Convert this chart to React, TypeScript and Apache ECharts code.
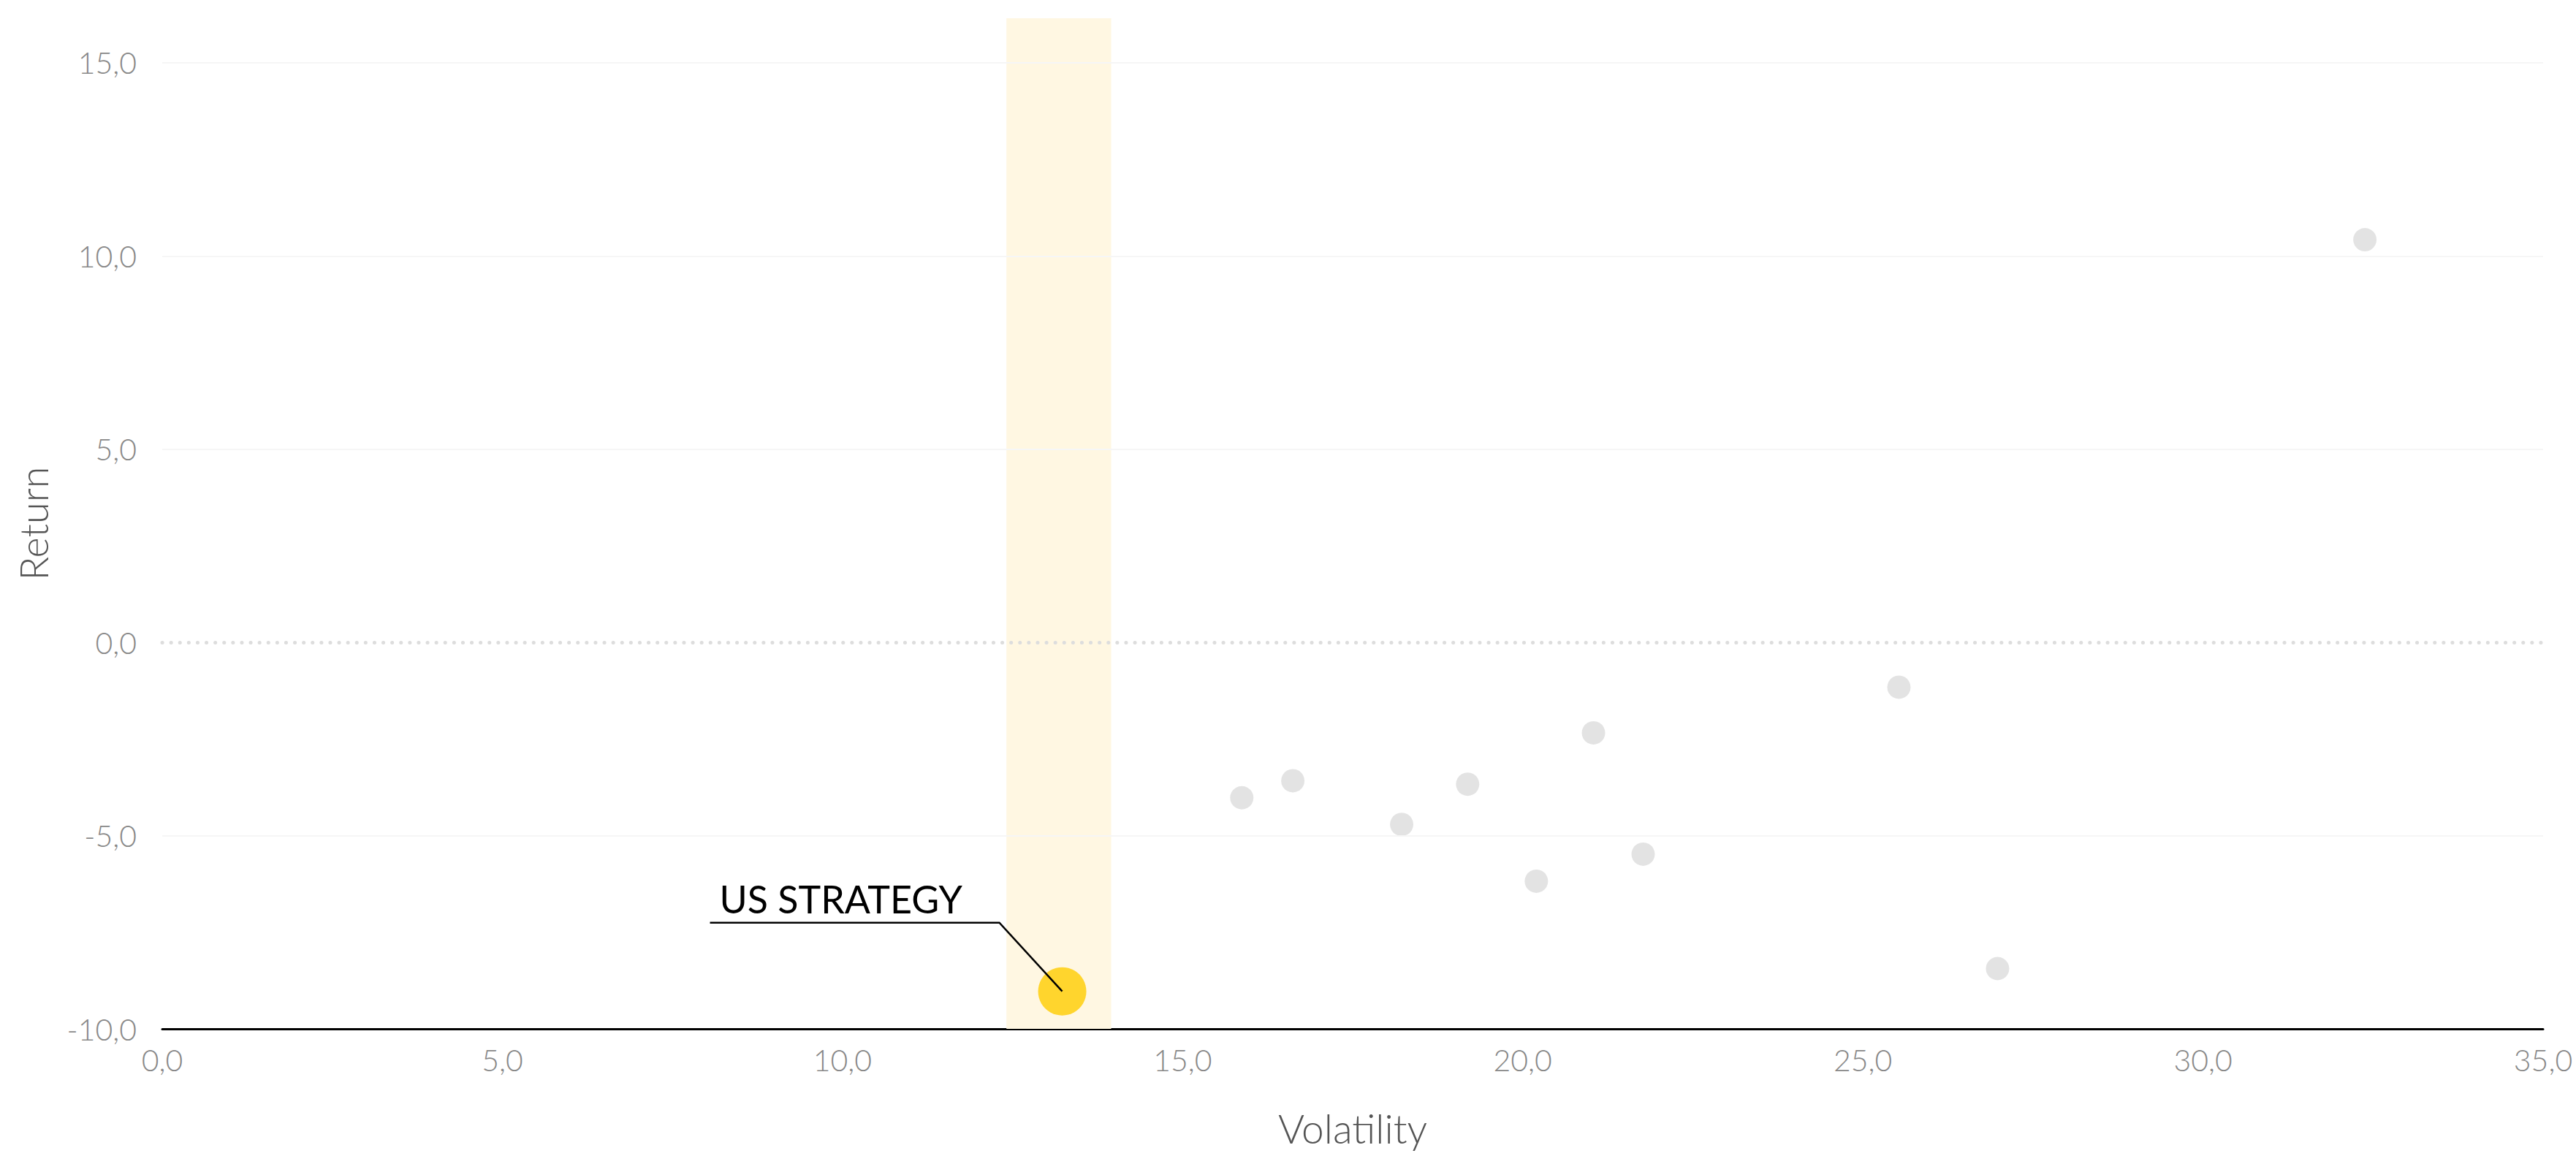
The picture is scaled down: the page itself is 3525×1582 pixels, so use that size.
import React, { useEffect, useRef } from "react";
import * as echarts from "echarts";

// ---- data ----
const peerPoints: [number, number][] = [
  [15.87, -4.02],
  [16.62, -3.58],
  [18.22, -4.71],
  [19.19, -3.67],
  [20.2, -6.18],
  [21.04, -2.34],
  [21.77, -5.48],
  [25.53, -1.16],
  [26.98, -8.44],
  [32.38, 10.42],
];
const strategyName = "US STRATEGY";
const strategyPoint: [number, number] = [13.23, -9.03];
const highlightBand: [number, number] = [12.41, 13.95];
const xRange: [number, number] = [0, 35];
const yRange: [number, number] = [-10, 16.15];
const tickStep = 5;
const gridLineValues = [15, 10, 5, -5];
const zeroLineValue = 0;
const xAxisTitle = "Volatility";
const yAxisTitle = "Return";

const FONT = "Lato, 'Open Sans', sans-serif";
const fmt = (v: number) =>
  Math.abs(v % tickStep) < 1e-9 ? v.toFixed(1).replace(".", ",") : "";

export default function App() {
  const ref = useRef<HTMLDivElement>(null);

  useEffect(() => {
    document.body.style.margin = "0";
    if (!ref.current) return;
    const chart = echarts.init(ref.current, undefined, { renderer: "svg" });
    const dotted = { color: "#dddddd", width: 5, type: [0.1, 12], cap: "round" };
    const faint = { color: "#f6f6f6", width: 2, type: "solid" };
    const option: any = {
      animation: false,
      backgroundColor: "#ffffff",
      grid: { left: 222, right: 45, top: 25, bottom: 174, containLabel: false },
      xAxis: {
        type: "value",
        min: xRange[0],
        max: xRange[1],
        interval: tickStep,
        name: xAxisTitle,
        nameLocation: "middle",
        nameGap: 108,
        nameTextStyle: { fontFamily: FONT, fontSize: 55, color: "#555555", fontWeight: 300 },
        axisLine: { show: true, onZero: false, lineStyle: { color: "#000000", width: 3 } },
        axisTick: { show: false },
        splitLine: { show: false },
        axisLabel: {
          formatter: fmt,
          fontFamily: FONT,
          fontWeight: 300,
          fontSize: 41,
          color: "#888888",
          margin: 22,
        },
      },
      yAxis: {
        type: "value",
        min: yRange[0],
        max: yRange[1],
        interval: tickStep,
        name: yAxisTitle,
        nameLocation: "middle",
        nameGap: 150,
        nameTextStyle: { fontFamily: FONT, fontSize: 54, color: "#555555", fontWeight: 300 },
        axisLine: { show: false, onZero: false },
        axisTick: { show: false },
        splitLine: { show: false },
        axisLabel: {
          formatter: fmt,
          showMaxLabel: false,
          fontFamily: FONT,
          fontWeight: 300,
          fontSize: 41,
          color: "#888888",
          margin: 35,
        },
      },
      series: [
        {
          type: "scatter",
          name: "Peers",
          data: peerPoints,
          symbolSize: 32,
          itemStyle: { color: "#dcdcdc" },
          z: 3,
          markArea: {
            silent: true,
            itemStyle: { color: "#fff7e2" },
            data: [[{ xAxis: highlightBand[0] }, { xAxis: highlightBand[1] }]],
          },
          markLine: {
            silent: true,
            symbol: "none",
            label: { show: false },
            emphasis: { disabled: true },
            lineStyle: faint,
            data: [
              ...gridLineValues.map((v) => ({ yAxis: v, lineStyle: faint })),
              { yAxis: zeroLineValue, lineStyle: dotted },
            ],
          },
        },
        {
          type: "scatter",
          name: strategyName,
          data: [strategyPoint],
          symbolSize: 66,
          itemStyle: { color: "#ffcc00" },
          z: 4,
        },
      ],
    };
    chart.setOption(option);

    const p = chart.convertToPixel({ gridIndex: 0 }, strategyPoint) as number[];
    if (p) {
      const [px, py] = p;
      chart.setOption({
        graphic: [
          {
            type: "polyline",
            z: 10,
            shape: {
              points: [
                [px - 482, py - 94],
                [px - 86, py - 94],
                [px, py],
              ],
            },
            style: { stroke: "#000000", lineWidth: 2.5, fill: null },
          },
          {
            type: "text",
            z: 10,
            x: px - 469,
            y: py - 127,
            style: {
              text: strategyName,
              fontFamily: FONT,
              fontSize: 52,
              fill: "#000000",
              verticalAlign: "middle",
              align: "left",
            },
          },
        ],
      });
    }

    return () => chart.dispose();
  }, []);

  return (
    <div
      ref={ref}
      style={{ position: "absolute", left: 0, top: 0, width: 3525, height: 1582 }}
    />
  );
}
